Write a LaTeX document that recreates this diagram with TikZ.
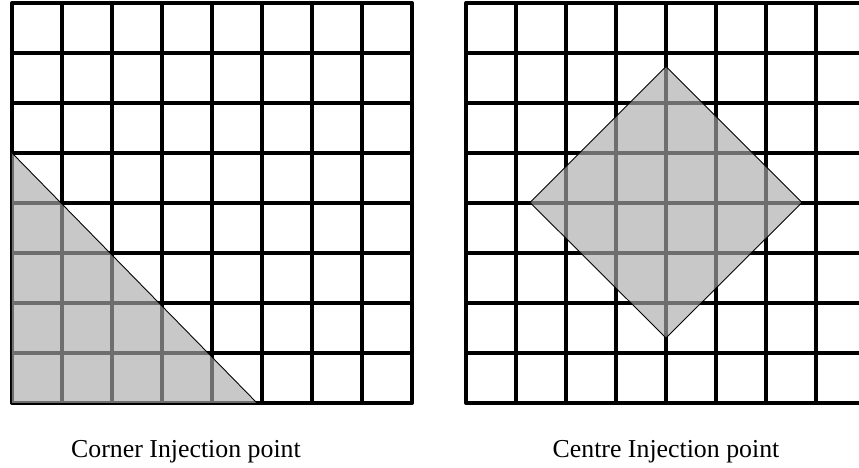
\documentclass[tikz,border=0pt]{standalone}
\usepackage{fontspec}
\setmainfont{Liberation Serif}
\usepackage{tikz}
\usetikzlibrary{positioning}
\definecolor{injGray}{HTML}{AAAAAA}

\begin{document}
\begin{tikzpicture}[x=1cm,y=1cm,
  mesh/.style={line width=2.2pt,line cap=round,draw=black},
  zone/.style={fill=injGray,fill opacity=0.65,draw=none},
  edge/.style={draw=black,line width=0.5pt},
  caption/.style={font=\fontsize{14.7}{17}\selectfont,anchor=base,inner sep=0pt}
]
  \clip (-0.24,-1.3) rectangle (16.94,8.06);

  % left grid, corner injection
  \draw[mesh] (0,0) grid (8,8);
  \fill[zone] (0,0) -- (0,5) -- (4.9,0) -- cycle;
  \draw[edge] (0,5) -- (4.9,0);

  % right grid, centre injection
  \begin{scope}[xshift=9.08cm]
    \draw[mesh] (0,0) grid (8,8);
    \fill[zone] (4,6.73) -- (6.72,4.01) -- (4,1.3) -- (1.28,4.01) -- cycle;
    \draw[edge] (4,6.73) -- (6.72,4.01) -- (4,1.3) -- (1.28,4.01) -- cycle;
  \end{scope}

  \node[caption] (corner) at (3.48,-1.1) {Corner Injection point};
  \node[caption] (centre) at (13.08,-1.1) {Centre Injection point};
\end{tikzpicture}
\end{document}
